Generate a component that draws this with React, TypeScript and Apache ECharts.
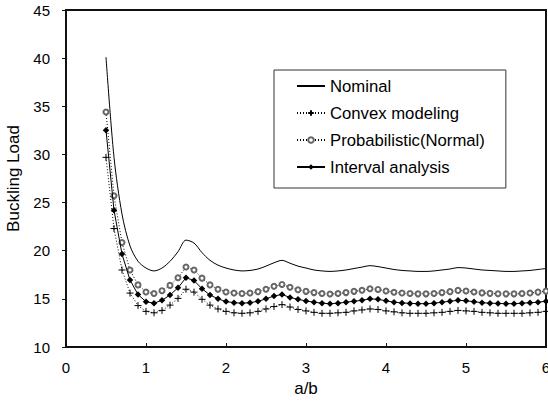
import React, { useEffect, useRef } from "react";
import * as echarts from "echarts";

const ratioAB = [
  0.5, 0.6, 0.7, 0.8, 0.9, 1.0, 1.1, 1.2, 1.3, 1.4,
  1.5, 1.6, 1.7, 1.8, 1.9, 2.0, 2.1, 2.2, 2.3, 2.4,
  2.5, 2.6, 2.7, 2.8, 2.9, 3.0, 3.1, 3.2, 3.3, 3.4,
  3.5, 3.6, 3.7, 3.8, 3.9, 4.0, 4.1, 4.2, 4.3, 4.4,
  4.5, 4.6, 4.7, 4.8, 4.9, 5.0, 5.1, 5.2, 5.3, 5.4,
  5.5, 5.6, 5.7, 5.8, 5.9, 6.0,
];

const nominal = [
  40.1, 29.7, 23.8, 20.5, 18.9, 18.2, 17.9, 18.2, 18.9, 19.9,
  21.1, 20.8, 19.8, 19.0, 18.5, 18.2, 18.0, 17.9, 17.95, 18.1,
  18.4, 18.75, 19.0, 18.7, 18.4, 18.2, 18.0, 17.9, 17.85, 17.9,
  18.0, 18.15, 18.3, 18.45, 18.35, 18.2, 18.05, 17.95, 17.9, 17.85,
  17.85, 17.9, 18.0, 18.1, 18.25, 18.2, 18.1, 18.0, 17.95, 17.9,
  17.85, 17.85, 17.9, 17.95, 18.05, 18.15,
];

const convex = [
  29.7, 22.3, 18.0, 15.6, 14.3, 13.7, 13.55, 13.8, 14.35, 15.05,
  16.0, 15.7, 14.95, 14.35, 13.95, 13.7, 13.55, 13.5, 13.55, 13.7,
  13.95, 14.2, 14.4, 14.15, 13.9, 13.75, 13.6, 13.5, 13.5, 13.55,
  13.6, 13.75, 13.85, 13.95, 13.9, 13.75, 13.65, 13.55, 13.5, 13.5,
  13.5, 13.55, 13.6, 13.7, 13.8, 13.75, 13.7, 13.6, 13.55, 13.5,
  13.5, 13.5, 13.5, 13.55, 13.6, 13.7,
];

const probabilistic = [
  34.4, 25.7, 20.85, 18.0, 16.45, 15.72, 15.55, 15.85, 16.4, 17.2,
  18.3, 18.0, 17.15, 16.45, 16.0, 15.72, 15.6, 15.55, 15.6, 15.75,
  16.0, 16.3, 16.5, 16.2, 15.95, 15.78, 15.65, 15.55, 15.5, 15.55,
  15.65, 15.78, 15.9, 16.05, 15.98, 15.82, 15.68, 15.6, 15.55, 15.52,
  15.52, 15.55, 15.65, 15.75, 15.88, 15.82, 15.72, 15.62, 15.57, 15.53,
  15.52, 15.52, 15.55, 15.6, 15.7, 15.8,
];

const interval = [
  32.5, 24.2, 19.65, 16.95, 15.45, 14.7, 14.55, 14.85, 15.4, 16.15,
  17.2, 16.9, 16.05, 15.4, 15.0, 14.72, 14.6, 14.55, 14.6, 14.75,
  15.0, 15.3, 15.45, 15.15, 14.95, 14.78, 14.65, 14.55, 14.5, 14.55,
  14.65, 14.75, 14.85, 15.0, 14.95, 14.8, 14.65, 14.58, 14.53, 14.5,
  14.5, 14.55, 14.65, 14.75, 14.85, 14.8, 14.7, 14.6, 14.55, 14.52,
  14.5, 14.5, 14.55, 14.6, 14.65, 14.75,
];

const seriesNames = [
  "Nominal",
  "Convex modeling",
  "Probabilistic(Normal)",
  "Interval analysis",
];

const FONT = "'Liberation Sans', Arial, sans-serif";

const pairs = (ys: number[]) => ratioAB.map((x, i) => [x, ys[i]]);

export default function App() {
  const ref = useRef<HTMLDivElement>(null);
  useEffect(() => {
    if (!ref.current) return;
    const chart = echarts.init(ref.current, null, { renderer: "svg" });
    chart.setOption({
      animation: false,
      backgroundColor: "#fff",
      textStyle: { fontFamily: FONT },
      grid: {
        left: 66,
        right: 2,
        top: 10,
        bottom: 55,
        outerBoundsMode: "none",
        containLabel: false,
        show: true,
        borderColor: "#111",
        borderWidth: 2,
      },
      legend: {
        left: 274,
        top: 70,
        orient: "vertical",
        backgroundColor: "#fff",
        borderColor: "#333",
        borderWidth: 1,
        padding: [7, 21, 12, 22],
        itemGap: 9,
        itemWidth: 28,
        itemHeight: 7,
        textStyle: { fontSize: 16.7, color: "#000", fontFamily: FONT, lineHeight: 18 },
        data: [
          { name: seriesNames[0], itemStyle: { opacity: 0 } },
          seriesNames[1],
          seriesNames[2],
          seriesNames[3],
        ],
      },
      xAxis: {
        type: "value",
        min: 0,
        max: 6,
        interval: 1,
        name: "a/b",
        nameLocation: "middle",
        nameGap: 27,
        nameTextStyle: { fontSize: 17, color: "#000", fontFamily: FONT },
        axisLine: { lineStyle: { color: "#111", width: 2 } },
        axisTick: { inside: true, length: 4, lineStyle: { color: "#111" } },
        axisLabel: { fontSize: 15, color: "#000", margin: 13, fontFamily: FONT },
        splitLine: { show: false },
      },
      yAxis: {
        type: "value",
        min: 10,
        max: 45,
        interval: 5,
        name: "Buckling Load",
        nameLocation: "middle",
        nameGap: 40,
        nameTextStyle: { fontSize: 17, color: "#000", fontFamily: FONT },
        axisLine: { show: true, lineStyle: { color: "#111", width: 2 } },
        axisTick: { show: true, inside: false, length: 4, lineStyle: { color: "#111" } },
        axisLabel: { fontSize: 15, color: "#000", margin: 16, fontFamily: FONT },
        splitLine: { show: false },
      },
      series: [
        {
          name: seriesNames[0],
          type: "line",
          data: pairs(nominal),
          smooth: 0.3,
          showSymbol: false,
          symbol: "none",
          lineStyle: { color: "#000", width: 1 },
          itemStyle: { color: "#000" },
          z: 2,
        },
        {
          name: seriesNames[1],
          type: "line",
          data: pairs(convex),
          symbol: "path://M4,0L4,8M0,4L8,4",
          symbolSize: 7,
          lineStyle: { color: "#000", width: 1, type: [1, 2] },
          itemStyle: { color: "transparent", borderColor: "#000", borderWidth: 1 },
          z: 3,
        },
        {
          name: seriesNames[2],
          type: "line",
          data: pairs(probabilistic),
          symbol: "emptyCircle",
          symbolSize: 5,
          lineStyle: { color: "#000", width: 1, type: [1, 2] },
          itemStyle: { color: "#666", borderWidth: 0.9 },
          z: 3,
        },
        {
          name: seriesNames[3],
          type: "line",
          data: pairs(interval),
          symbol: "diamond",
          symbolSize: 6.5,
          lineStyle: { color: "#000", width: 1 },
          itemStyle: { color: "#000" },
          z: 4,
        },
      ],
    });
    return () => chart.dispose();
  }, []);
  return (
    <div
      ref={ref}
      style={{ position: "absolute", left: 0, top: 0, width: 548, height: 402 }}
    />
  );
}
